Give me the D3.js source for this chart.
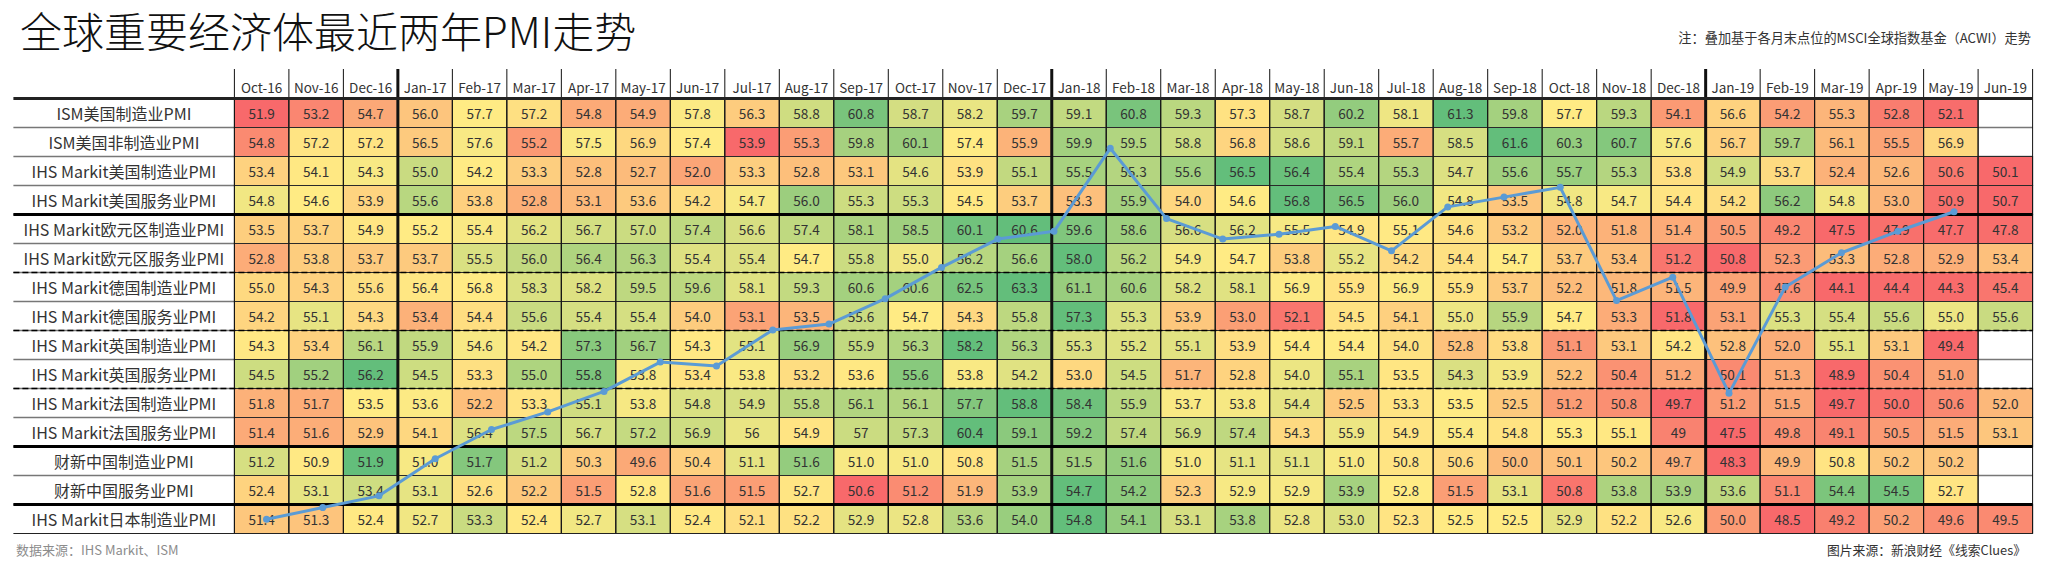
<!DOCTYPE html>
<html>
<head>
<meta charset="utf-8">
<style>
  html, body { margin: 0; padding: 0; background: #fff; }
  svg { display: block; }
  text { font-family: 'Noto Sans CJK SC', sans-serif; }
</style>
<script src="https://cdnjs.cloudflare.com/ajax/libs/d3/7.8.5/d3.min.js"></script>
</head>
<body>
<svg id="chart" width="2048" height="563"></svg>
<script>
var months = [
  'Oct-16', 'Nov-16', 'Dec-16',
  'Jan-17', 'Feb-17', 'Mar-17', 'Apr-17', 'May-17', 'Jun-17', 'Jul-17', 'Aug-17', 'Sep-17', 'Oct-17', 'Nov-17', 'Dec-17',
  'Jan-18', 'Feb-18', 'Mar-18', 'Apr-18', 'May-18', 'Jun-18', 'Jul-18', 'Aug-18', 'Sep-18', 'Oct-18', 'Nov-18', 'Dec-18',
  'Jan-19', 'Feb-19', 'Mar-19', 'Apr-19', 'May-19', 'Jun-19'
]

var rowNames = [
  'ISM美国制造业PMI', 'ISM美国非制造业PMI', 'IHS Markit美国制造业PMI', 'IHS Markit美国服务业PMI',
  'IHS Markit欧元区制造业PMI', 'IHS Markit欧元区服务业PMI', 'IHS Markit德国制造业PMI', 'IHS Markit德国服务业PMI',
  'IHS Markit英国制造业PMI', 'IHS Markit英国服务业PMI', 'IHS Markit法国制造业PMI', 'IHS Markit法国服务业PMI',
  '财新中国制造业PMI', '财新中国服务业PMI', 'IHS Markit日本制造业PMI'
]

var ismMfg = [51.9, 53.2, 54.7, 56.0, 57.7, 57.2, 54.8, 54.9, 57.8, 56.3, 58.8, 60.8, 58.7, 58.2, 59.7, 59.1, 60.8, 59.3, 57.3, 58.7, 60.2, 58.1, 61.3, 59.8, 57.7, 59.3, 54.1, 56.6, 54.2, 55.3, 52.8, 52.1, null]
var ismNonMfg = [54.8, 57.2, 57.2, 56.5, 57.6, 55.2, 57.5, 56.9, 57.4, 53.9, 55.3, 59.8, 60.1, 57.4, 55.9, 59.9, 59.5, 58.8, 56.8, 58.6, 59.1, 55.7, 58.5, 61.6, 60.3, 60.7, 57.6, 56.7, 59.7, 56.1, 55.5, 56.9, null]
var usMfg = [53.4, 54.1, 54.3, 55.0, 54.2, 53.3, 52.8, 52.7, 52.0, 53.3, 52.8, 53.1, 54.6, 53.9, 55.1, 55.5, 55.3, 55.6, 56.5, 56.4, 55.4, 55.3, 54.7, 55.6, 55.7, 55.3, 53.8, 54.9, 53.7, 52.4, 52.6, 50.6, 50.1]
var usServ = [54.8, 54.6, 53.9, 55.6, 53.8, 52.8, 53.1, 53.6, 54.2, 54.7, 56.0, 55.3, 55.3, 54.5, 53.7, 53.3, 55.9, 54.0, 54.6, 56.8, 56.5, 56.0, 54.8, 53.5, 54.8, 54.7, 54.4, 54.2, 56.2, 54.8, 53.0, 50.9, 50.7]
var euMfg = [53.5, 53.7, 54.9, 55.2, 55.4, 56.2, 56.7, 57.0, 57.4, 56.6, 57.4, 58.1, 58.5, 60.1, 60.6, 59.6, 58.6, 56.6, 56.2, 55.5, 54.9, 55.1, 54.6, 53.2, 52.0, 51.8, 51.4, 50.5, 49.2, 47.5, 47.9, 47.7, 47.8]
var euServ = [52.8, 53.8, 53.7, 53.7, 55.5, 56.0, 56.4, 56.3, 55.4, 55.4, 54.7, 55.8, 55.0, 56.2, 56.6, 58.0, 56.2, 54.9, 54.7, 53.8, 55.2, 54.2, 54.4, 54.7, 53.7, 53.4, 51.2, 50.8, 52.3, 53.3, 52.8, 52.9, 53.4]
var deMfg = [55.0, 54.3, 55.6, 56.4, 56.8, 58.3, 58.2, 59.5, 59.6, 58.1, 59.3, 60.6, 60.6, 62.5, 63.3, 61.1, 60.6, 58.2, 58.1, 56.9, 55.9, 56.9, 55.9, 53.7, 52.2, 51.8, 51.5, 49.9, 47.6, 44.1, 44.4, 44.3, 45.4]
var deServ = [54.2, 55.1, 54.3, 53.4, 54.4, 55.6, 55.4, 55.4, 54.0, 53.1, 53.5, 55.6, 54.7, 54.3, 55.8, 57.3, 55.3, 53.9, 53.0, 52.1, 54.5, 54.1, 55.0, 55.9, 54.7, 53.3, 51.8, 53.1, 55.3, 55.4, 55.6, 55.0, 55.6]
var ukMfg = [54.3, 53.4, 56.1, 55.9, 54.6, 54.2, 57.3, 56.7, 54.3, 55.1, 56.9, 55.9, 56.3, 58.2, 56.3, 55.3, 55.2, 55.1, 53.9, 54.4, 54.4, 54.0, 52.8, 53.8, 51.1, 53.1, 54.2, 52.8, 52.0, 55.1, 53.1, 49.4, null]
var ukServ = [54.5, 55.2, 56.2, 54.5, 53.3, 55.0, 55.8, 53.8, 53.4, 53.8, 53.2, 53.6, 55.6, 53.8, 54.2, 53.0, 54.5, 51.7, 52.8, 54.0, 55.1, 53.5, 54.3, 53.9, 52.2, 50.4, 51.2, 50.1, 51.3, 48.9, 50.4, 51.0, null]
var frMfg = [51.8, 51.7, 53.5, 53.6, 52.2, 53.3, 55.1, 53.8, 54.8, 54.9, 55.8, 56.1, 56.1, 57.7, 58.8, 58.4, 55.9, 53.7, 53.8, 54.4, 52.5, 53.3, 53.5, 52.5, 51.2, 50.8, 49.7, 51.2, 51.5, 49.7, 50.0, 50.6, 52.0]
var frServ = [51.4, 51.6, 52.9, 54.1, 56.4, 57.5, 56.7, 57.2, 56.9, 56, 54.9, 57, 57.3, 60.4, 59.1, 59.2, 57.4, 56.9, 57.4, 54.3, 55.9, 54.9, 55.4, 54.8, 55.3, 55.1, 49, 47.5, 49.8, 49.1, 50.5, 51.5, 53.1]
var cnMfg = [51.2, 50.9, 51.9, 51.0, 51.7, 51.2, 50.3, 49.6, 50.4, 51.1, 51.6, 51.0, 51.0, 50.8, 51.5, 51.5, 51.6, 51.0, 51.1, 51.1, 51.0, 50.8, 50.6, 50.0, 50.1, 50.2, 49.7, 48.3, 49.9, 50.8, 50.2, 50.2, null]
var cnServ = [52.4, 53.1, 53.4, 53.1, 52.6, 52.2, 51.5, 52.8, 51.6, 51.5, 52.7, 50.6, 51.2, 51.9, 53.9, 54.7, 54.2, 52.3, 52.9, 52.9, 53.9, 52.8, 51.5, 53.1, 50.8, 53.8, 53.9, 53.6, 51.1, 54.4, 54.5, 52.7, null]
var jpMfg = [51.4, 51.3, 52.4, 52.7, 53.3, 52.4, 52.7, 53.1, 52.4, 52.1, 52.2, 52.9, 52.8, 53.6, 54.0, 54.8, 54.1, 53.1, 53.8, 52.8, 53.0, 52.3, 52.5, 52.5, 52.9, 52.2, 52.6, 50.0, 48.5, 49.2, 50.2, 49.6, 49.5]

var rows = [ismMfg, ismNonMfg, usMfg, usServ, euMfg, euServ, deMfg, deServ, ukMfg, ukServ, frMfg, frServ, cnMfg, cnServ, jpMfg]

// these three show up without a decimal in the original sheet
var noDecimalMonths = ['Jul-17', 'Sep-17', 'Dec-18']

// ACWI month end
var acwi = [58.0, 58.6, 59.2, 61.1, 62.6, 63.5, 64.55, 66.05, 65.85, 67.7, 68.0, 69.3, 70.9, 72.35, 72.75, 77.0, 73.4, 72.35, 72.6, 73.0, 71.75, 74.0, 74.5, 75.0, 69.2, 70.4, 64.45, 69.9, 71.65, 72.75, 73.75]

var thickRows = [4, 12, 14]
var dashedRows = [6, 8, 10]
var thickMonths = ['Jan-17', 'Jan-18', 'Jan-19']

var left = 13.4
var gridLeft = 234.4
var gridRight = 2032.6
var gridTop = 98.5
var gridBottom = 533.5
var headTop = 69

var svg = d3.select('#chart')

var x = d3.scaleBand().domain(months).range([gridLeft, gridRight])
var y = d3.scaleBand().domain(rowNames).range([gridTop, gridBottom])

function rowColor (values) {
  // excel style 3 colour scale, one per row
  var present = values.filter(function (d) { return d !== null })
  return d3.scaleLinear()
    .domain([d3.min(present), d3.median(present), d3.max(present)])
    .range(['#f8696b', '#ffeb84', '#63be7b'])
}

function cellLabel (value, month, rowName) {
  if (rowName === 'IHS Markit法国服务业PMI' && noDecimalMonths.indexOf(month) >= 0) {
    return String(value)
  }
  return d3.format('.1f')(value)
}

var cells = []
rows.forEach(function (values, r) {
  var color = rowColor(values)
  values.forEach(function (value, c) {
    if (value !== null) {
      cells.push({ row: rowNames[r], month: months[c], value: value, fill: color(value) })
    }
  })
})

// thin row rules, also seen through the empty cells
svg.append('g').selectAll('line').data(d3.range(1, rowNames.length))
  .enter().append('line')
    .attr('x1', left).attr('x2', gridRight)
    .attr('y1', function (d) { return gridTop + d * y.step() })
    .attr('y2', function (d) { return gridTop + d * y.step() })
    .attr('stroke', '#777')
    .attr('stroke-width', 1.5)

svg.append('g').selectAll('rect').data(cells)
  .enter().append('rect')
    .attr('x', function (d) { return x(d.month) })
    .attr('y', function (d) { return y(d.row) })
    .attr('width', x.bandwidth())
    .attr('height', y.bandwidth())
    .attr('fill', function (d) { return d.fill })
    .attr('stroke', '#2a2a2a')
    .attr('stroke-width', 1)

svg.append('g').selectAll('text').data(cells)
  .enter().append('text')
    .attr('x', function (d) { return x(d.month) + x.bandwidth() / 2 })
    .attr('y', function (d) { return y(d.row) + y.bandwidth() / 2 })
    .attr('dy', '0.42em')
    .attr('text-anchor', 'middle')
    .attr('font-size', 13.6)
    .attr('fill', '#333')
    .text(function (d) { return cellLabel(d.value, d.month, d.row) })

// column rules run up through the header
svg.append('g').selectAll('line').data(months.concat(['end']))
  .enter().append('line')
    .attr('x1', function (d) { return d === 'end' ? gridRight : x(d) })
    .attr('x2', function (d) { return d === 'end' ? gridRight : x(d) })
    .attr('y1', headTop)
    .attr('y2', gridBottom)
    .attr('stroke', '#111')
    .attr('stroke-width', function (d) { return thickMonths.indexOf(d) >= 0 ? 3 : 1 })

// section rules
svg.append('line')
  .attr('x1', left).attr('x2', gridRight)
  .attr('y1', gridTop).attr('y2', gridTop)
  .attr('stroke', '#222').attr('stroke-width', 3)

svg.append('g').selectAll('line').data(thickRows)
  .enter().append('line')
    .attr('x1', left).attr('x2', gridRight)
    .attr('y1', function (d) { return gridTop + d * y.step() })
    .attr('y2', function (d) { return gridTop + d * y.step() })
    .attr('stroke', '#000')
    .attr('stroke-width', 3)

svg.append('g').selectAll('line').data(dashedRows)
  .enter().append('line')
    .attr('x1', left).attr('x2', gridRight)
    .attr('y1', function (d) { return gridTop + d * y.step() })
    .attr('y2', function (d) { return gridTop + d * y.step() })
    .attr('stroke', '#000')
    .attr('stroke-width', 1.5)
    .attr('stroke-dasharray', '6 3')

svg.append('line')
  .attr('x1', left).attr('x2', gridRight)
  .attr('y1', gridBottom).attr('y2', gridBottom)
  .attr('stroke', '#222').attr('stroke-width', 1)

// header + row names
var headAxis = svg.append('g')
  .attr('transform', 'translate(0,' + gridTop + ')')
  .call(d3.axisTop(x).tickSize(0).tickPadding(6))
headAxis.select('.domain').remove()
headAxis.selectAll('text')
  .attr('font-size', 13.5)
  .attr('font-family', null)
  .attr('fill', '#333')

var nameAxis = svg.append('g')
  .attr('transform', 'translate(' + (left + gridLeft) / 2 + ',1.5)')
  .call(d3.axisLeft(y).tickSize(0).tickPadding(0))
nameAxis.select('.domain').remove()
nameAxis.selectAll('text')
  .attr('text-anchor', 'middle')
  .attr('font-size', 16)
  .attr('font-family', null)
  .attr('fill', '#333')

// ACWI overlay, its own scales: it does not line up with the columns
var lineX = d3.scalePoint().domain(months.slice(0, acwi.length)).range([266.5, 1954])
var lineY = d3.scaleLinear().domain([58, 77]).range([519.3, 148.3])

var acwiLine = d3.line()
  .x(function (d, i) { return lineX(months[i]) })
  .y(function (d) { return lineY(d) })

svg.append('path')
  .datum(acwi)
  .attr('d', acwiLine)
  .attr('fill', 'none')
  .attr('stroke', '#5b9bd5')
  .attr('stroke-width', 3)
  .attr('stroke-linejoin', 'round')

svg.append('g').selectAll('circle').data(acwi)
  .enter().append('circle')
    .attr('cx', function (d, i) { return lineX(months[i]) })
    .attr('cy', function (d) { return lineY(d) })
    .attr('r', 3.5)
    .attr('fill', '#5b9bd5')

// titles and notes
svg.append('text')
  .attr('x', 20).attr('y', 48)
  .attr('font-size', 42)
  .attr('font-weight', 300)
  .attr('fill', '#111')
  .text('全球重要经济体最近两年PMI走势')

svg.append('text')
  .attr('x', 2031).attr('y', 43)
  .attr('text-anchor', 'end')
  .attr('font-size', 13.2)
  .attr('fill', '#333')
  .text('注：叠加基于各月末点位的MSCI全球指数基金（ACWI）走势')

svg.append('text')
  .attr('x', 16).attr('y', 555)
  .attr('font-size', 13)
  .attr('fill', '#8c8c8c')
  .text('数据来源：IHS Markit、ISM')

svg.append('text')
  .attr('x', 2026).attr('y', 555)
  .attr('text-anchor', 'end')
  .attr('font-size', 12.8)
  .attr('fill', '#333')
  .text('图片来源：新浪财经《线索Clues》')
</script>
</body>
</html>
